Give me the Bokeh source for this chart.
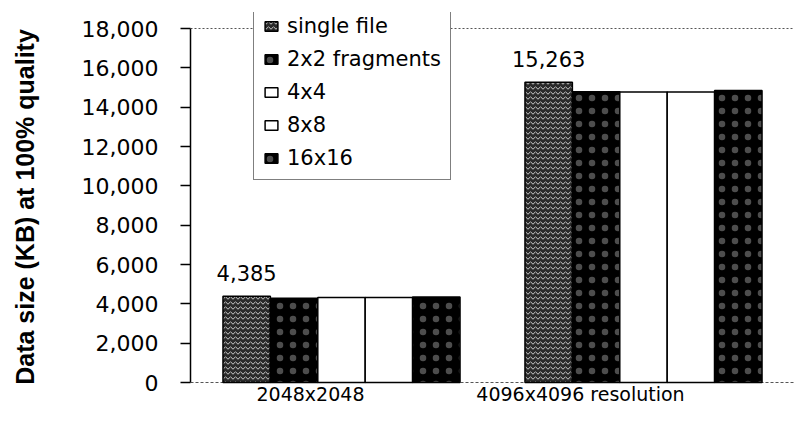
from bokeh.plotting import figure
from bokeh.models import (ColumnDataSource, FactorRange, Range1d, NumeralTickFormatter,
                          FixedTicker, Span, Legend, LegendItem, LabelSet)
from bokeh.core.properties import value
from bokeh.transform import dodge
from bokeh.embed import file_html
from bokeh.resources import INLINE

# ---- data ----
categories = ["2048x2048", "4096x4096"]
category_labels = ["2048x2048", "4096x4096 resolution"]
series_names = ["single file", "2x2 fragments", "4x4", "8x8", "16x16"]
single_file = [4385, 15263]
frag_2x2 = [4285, 14790]
frag_4x4 = [4320, 14770]
frag_8x8 = [4320, 14770]
frag_16x16 = [4350, 14850]
y_ticks = [0, 2000, 4000, 6000, 8000, 10000, 12000, 14000, 16000, 18000]

# ---- styles / layout ----
bar_offsets = [-0.314, -0.157, 0.0, 0.157, 0.314]
bar_width = 0.157
x_label_shift = [-31, -63]
bar_styles = [
    dict(fill_color="#2a2a2a", hatch_pattern="horizontal_wave", hatch_color="white",
         hatch_scale=5, hatch_weight=1, hatch_alpha=0.75),
    dict(fill_color="black", hatch_pattern="dot", hatch_color="white",
         hatch_scale=13, hatch_weight=0.5, hatch_alpha=0.3),
    dict(fill_color="white"),
    dict(fill_color="white"),
    dict(fill_color="black", hatch_pattern="dot", hatch_color="white",
         hatch_scale=13, hatch_weight=0.5, hatch_alpha=0.3),
]

src = ColumnDataSource(dict(cat=categories,
                            s0=single_file, s1=frag_2x2, s2=frag_4x4,
                            s3=frag_8x8, s4=frag_16x16))

# frame extends beyond the axis; axis drawn only over 0..18000
p = figure(width=794, height=421, output_backend="svg", toolbar_location=None,
           x_range=FactorRange(*categories), y_range=Range1d(-966, 18814),
           min_border_left=190, min_border_right=0, min_border_top=12,
           min_border_bottom=20)
p.outline_line_color = None
p.xgrid.visible = False
p.ygrid.visible = False
p.xaxis.visible = False

renderers = []
for i, name in enumerate(series_names):
    r = p.vbar(x=dodge("cat", bar_offsets[i], range=p.x_range), top="s%d" % i,
               width=bar_width, source=src, line_color="black", line_width=1.5,
               **bar_styles[i])
    renderers.append(r)

# baseline and top dotted lines
p.add_layout(Span(location=0, dimension="width", line_color="#555555",
                  line_dash="3 2", line_width=1, level="underlay"))
p.add_layout(Span(location=18000, dimension="width", line_color="#555555",
                  line_dash="2 2", line_width=1, level="underlay"))

ax = p.yaxis[0]
ax.bounds = (0, 18000)
ax.ticker = FixedTicker(ticks=y_ticks)
ax.formatter = NumeralTickFormatter(format="0,0")
ax.axis_label = "Data size (KB) at 100% quality"
ax.axis_label_text_font = "Liberation Sans"
ax.axis_label_text_font_style = "bold"
ax.axis_label_text_font_size = "25px"
ax.axis_label_text_color = "black"
ax.axis_label_standoff = 40
ax.major_label_text_font = "DejaVu Sans"
ax.major_label_text_font_size = "22px"
ax.major_label_text_color = "black"
ax.major_label_standoff = 22
ax.major_tick_out = 10
ax.major_tick_in = 0
ax.minor_tick_out = 0
ax.minor_tick_in = 0
ax.axis_line_width = 1.5
ax.major_tick_line_width = 1.5
ax.axis_line_color = "black"

# value labels on single-file bars
val_src = ColumnDataSource(dict(cat=categories, v=single_file,
                                t=[f"{v:,}" for v in single_file]))
p.add_layout(LabelSet(x=dodge("cat", bar_offsets[0], range=p.x_range), y="v", text="t",
                      source=val_src, text_align="center", text_baseline="alphabetic",
                      y_offset=15, text_font=value("DejaVu Sans"),
                      text_font_size=value("21px"), text_color="black"))

# category labels
cat_src = ColumnDataSource(dict(cat=categories, y=[0, 0], t=category_labels,
                                dx=x_label_shift))
p.add_layout(LabelSet(x="cat", y="y", text="t", x_offset="dx", source=cat_src,
                      text_align="center", text_baseline="top", y_offset=0,
                      text_font=value("DejaVu Sans"), text_font_size=value("19px"),
                      text_color="black"))

legend = Legend(items=[LegendItem(label=n, renderers=[r]) for n, r in zip(series_names, renderers)],
                location=(63, 221), orientation="vertical")
legend.label_text_font = "DejaVu Sans"
legend.label_text_font_size = "21px"
legend.label_text_color = "black"
legend.glyph_width = 16
legend.glyph_height = 12
legend.label_standoff = 8
legend.label_height = 24
legend.spacing = 9
legend.padding = 9
legend.margin = 0
legend.border_line_color = "black"
legend.border_line_width = 1.5
legend.background_fill_color = "white"
legend.background_fill_alpha = 1.0
p.add_layout(legend, "center")

open("out.html", "w").write(file_html(p, INLINE))
